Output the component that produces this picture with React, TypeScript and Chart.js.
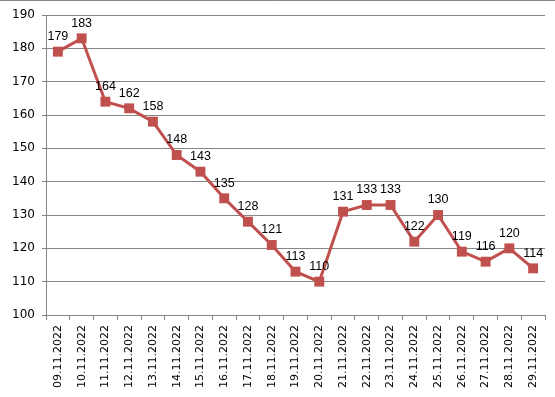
import React, { useEffect, useRef } from "react";
import { Chart, registerables } from "chart.js";

Chart.register(...registerables);

const categories = [
  "09.11.2022", "10.11.2022", "11.11.2022", "12.11.2022", "13.11.2022", "14.11.2022",
  "15.11.2022", "16.11.2022", "17.11.2022", "18.11.2022", "19.11.2022", "20.11.2022",
  "21.11.2022", "22.11.2022", "23.11.2022", "24.11.2022", "25.11.2022", "26.11.2022",
  "27.11.2022", "28.11.2022", "29.11.2022",
];
const values = [179, 183, 164, 162, 158, 148, 143, 135, 128, 121, 113, 110, 131, 133, 133, 122, 130, 119, 116, 120, 114];
const yMin = 100;
const yMax = 190;
const yStep = 10;

const lineColor = "#C0504D";
const gridColor = "#868686";

const labelPlugin = {
  id: "pointLabels",
  afterDatasetsDraw(chart: any) {
    const ctx = chart.ctx;
    const meta = chart.getDatasetMeta(0);
    ctx.save();
    ctx.font = "12.5px 'Liberation Sans', Arial, sans-serif";
    ctx.fillStyle = "#000";
    ctx.textAlign = "center";
    ctx.textBaseline = "bottom";
    meta.data.forEach((pt: any, i: number) => {
      ctx.fillText(String(values[i]), pt.x, pt.y - 9);
    });
    ctx.restore();
  },
  beforeDraw(chart: any) {
    const ctx = chart.ctx;
    ctx.save();
    ctx.fillStyle = "#fff";
    ctx.fillRect(0, 0, chart.width, chart.height);
    ctx.strokeStyle = gridColor;
    ctx.lineWidth = 1;
    ctx.beginPath();
    ctx.moveTo(0, 0.5);
    ctx.lineTo(chart.width, 0.5);
    ctx.stroke();
    ctx.restore();
  },
};

export default function App() {
  const ref = useRef<HTMLCanvasElement>(null);
  useEffect(() => {
    if (!ref.current) return;
    const chart = new Chart(ref.current, {
      type: "line",
      data: {
        labels: categories,
        datasets: [
          {
            data: values,
            borderColor: lineColor,
            backgroundColor: lineColor,
            borderWidth: 3,
            pointStyle: "rect",
            pointRadius: 7,
            pointBorderWidth: 0,
            pointBackgroundColor: lineColor,
            tension: 0,
          },
        ],
      },
      options: {
        responsive: false,
        animation: false,
        layout: { padding: { top: 15, right: 10, left: 0, bottom: 0 } },
        plugins: { legend: { display: false }, tooltip: { enabled: false } },
        scales: {
          x: {
            offset: true,
            grid: { display: true, drawOnChartArea: false, tickLength: 5, color: gridColor, offset: true },
            border: { color: gridColor },
            ticks: {
              minRotation: 90,
              maxRotation: 90,
              autoSkip: false,
              padding: 5,
              color: "#000",
              font: { family: "'DejaVu Sans', Verdana, sans-serif", size: 11 },
            },
            afterFit(scale: any) {
              scale.height = 82;
            },
          },
          y: {
            min: yMin,
            max: yMax,
            ticks: {
              stepSize: yStep,
              padding: 7,
              color: "#000",
              font: { family: "'DejaVu Sans', Verdana, sans-serif", size: 12 },
            },
            grid: { color: gridColor, tickLength: 4, lineWidth: 1 },
            border: { color: gridColor },
            afterFit(scale: any) {
              scale.width = 46;
            },
          },
        },
      },
      plugins: [labelPlugin],
    });
    return () => chart.destroy();
  }, []);
  return (
    <div style={{ position: "absolute", left: 0, top: 0, width: 555, height: 397 }}>
      <canvas ref={ref} width={555} height={397} style={{ display: "block" }} />
    </div>
  );
}
